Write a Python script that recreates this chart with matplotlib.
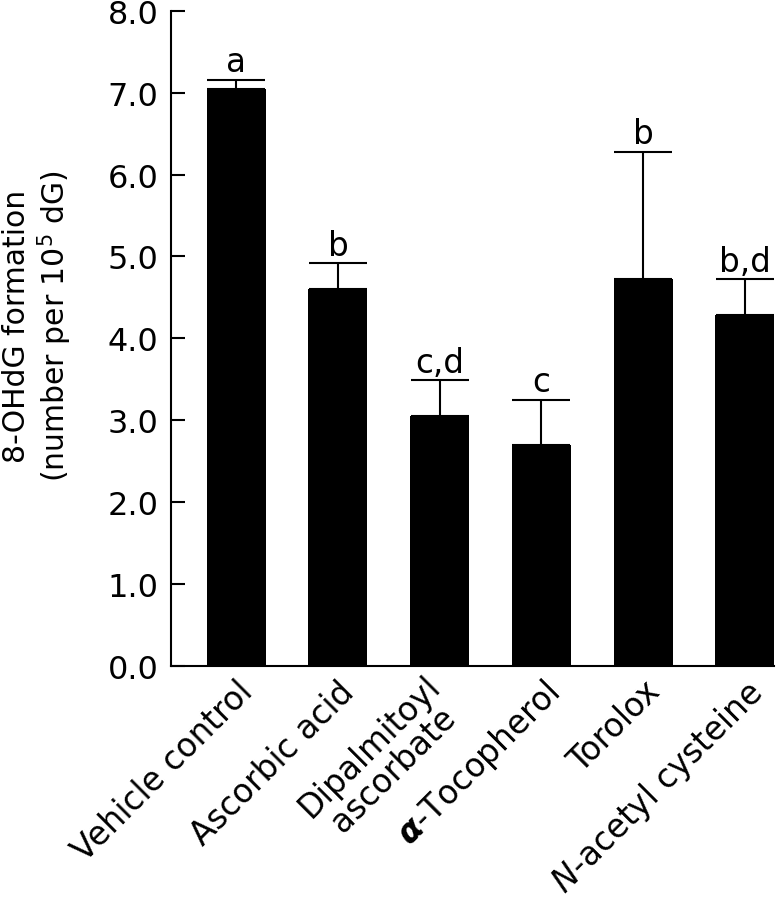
import numpy as np
import matplotlib
matplotlib.use("Agg")
import matplotlib.pyplot as plt
from matplotlib.transforms import ScaledTranslation

# ---- data ---------------------------------------------------------------
categories = [
    "Vehicle control",
    "Ascorbic acid",
    "Dipalmitoyl\nascorbate",
    "$\\boldsymbol{\\alpha}$-Tocopherol",
    "Torolox",
    "$\\mathit{N}$-acetyl cysteine",
]
means = [7.04, 4.60, 3.05, 2.70, 4.72, 4.28]
errors = [0.12, 0.32, 0.44, 0.55, 1.56, 0.44]
letters = ["a", "b", "c,d", "c", "b", "b,d"]
yticks = [0.0, 1.0, 2.0, 3.0, 4.0, 5.0, 6.0, 7.0, 8.0]

plt.rcParams["font.family"] = ["DejaVu Sans"]
plt.rcParams["mathtext.fontset"] = "dejavusans"

fig = plt.figure(figsize=(7.77, 9.04), dpi=100)
ax = fig.add_axes([171 / 777, 1 - 667 / 904, (774 - 171) / 777, (667 - 11.7) / 904])

x = np.arange(len(categories))
width = 0.58
ax.bar(x, means, width=width, color="black", zorder=2)
ax.errorbar(x, means, yerr=[np.zeros(len(errors)), errors], fmt="none",
            ecolor="black", elinewidth=1.5, capsize=21, capthick=1.5, zorder=1)

# 有意差の記号
for xi, m, e, t in zip(x, means, errors, letters):
    ax.annotate(t, (xi, m + e), xytext=(0, 6), textcoords="offset points",
                ha="center", va="baseline", fontsize=23.5)

ax.set_xlim(-0.64, 5.285)
ax.set_ylim(0, 8)
ax.set_yticks(yticks, [f"{v:.1f}" for v in yticks])
ax.tick_params(axis="y", direction="in", length=10, width=1.5, labelsize=23, pad=9)
ax.set_xticks(x)
ax.set_xticklabels(categories, rotation=45, ha="right", va="top",
                   rotation_mode="anchor", fontsize=23.5, multialignment="center",
                   linespacing=1.0)
ax.tick_params(axis="x", length=0, pad=6)

# 2行ラベルだけ少し左上へ
lbl = ax.get_xticklabels()[2]
lbl.set_transform(lbl.get_transform() + ScaledTranslation(-16 / 100, 6 / 100, fig.dpi_scale_trans))

for side in ("top", "right"):
    ax.spines[side].set_visible(False)
for side in ("left", "bottom"):
    ax.spines[side].set_linewidth(1.5)

ax.set_ylabel("8-OHdG formation\n(number per 10$^5$ dG)", fontsize=21.5,
              linespacing=1.15)
ax.yaxis.set_label_coords((74 - 171) / 603, 0.52)

fig.savefig("out.png", dpi=100)
